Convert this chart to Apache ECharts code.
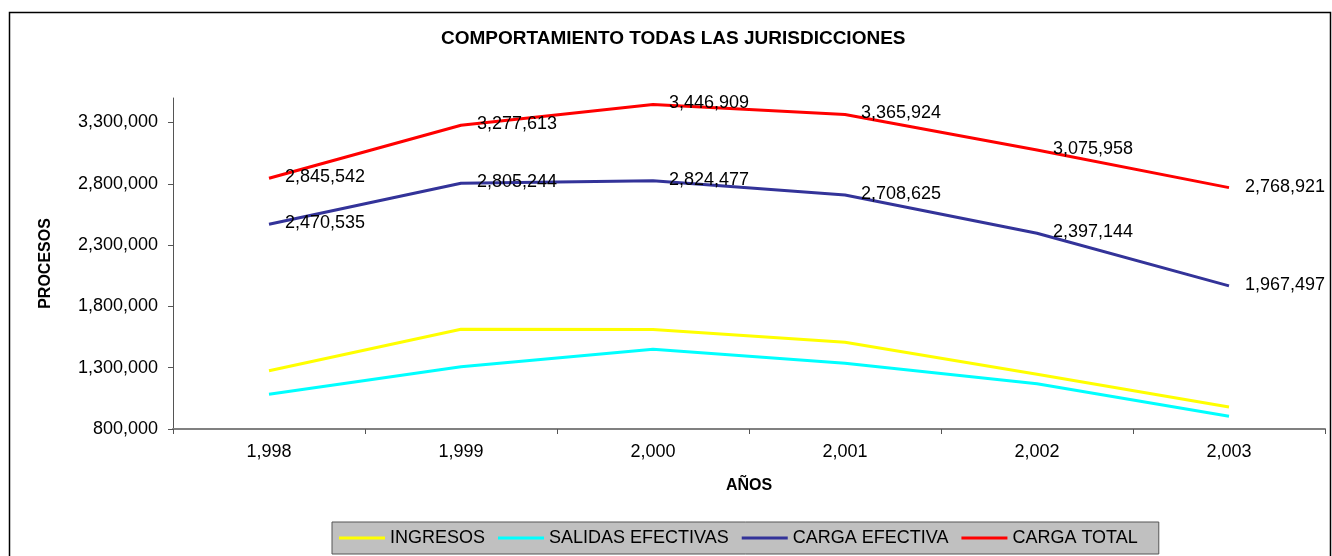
<!DOCTYPE html>
<html>
<head>
<meta charset="utf-8">
<title>COMPORTAMIENTO TODAS LAS JURISDICCIONES</title>
<script src="https://cdn.jsdelivr.net/npm/echarts@6/dist/echarts.min.js"></script>
<style>
  html, body { margin: 0; padding: 0; background: #fff; }
  #chart { width: 1332px; height: 556px; }
</style>
</head>
<body>
<div id="chart"></div>
<script>
// datos
let years = ['1,998', '1,999', '2,000', '2,001', '2,002', '2,003'];
let ingresos = [1275000, 1613000, 1612000, 1507000, 1246000, 979000];
let salidas = [1083000, 1308000, 1450000, 1336000, 1169000, 904000];
let cargaEfectiva = [2470535, 2805244, 2824477, 2708625, 2397144, 1967497];
let cargaTotal = [2845542, 3277613, 3446909, 3365924, 3075958, 2768921];
let yTicks = [800000, 1300000, 1800000, 2300000, 2800000, 3300000];

let font = "'Liberation Sans', Arial, sans-serif";

function fmt(v) {
  return Number(v).toLocaleString('en-US');
}

// etiquetas de valor a la derecha del punto
let valueLabel = {
  show: true,
  position: 'right',
  distance: 16,
  offset: [0, -1],
  color: '#000',
  fontFamily: font,
  fontSize: 18,
  formatter: function (p) { return fmt(p.value); }
};

function lineSerie(name, data, color, label) {
  return {
    name: name,
    type: 'line',
    data: data,
    symbol: 'circle',
    symbolSize: 0.1,
    itemStyle: { color: color },
    lineStyle: { color: color, width: 3 },
    label: label ? valueLabel : { show: false },
    emphasis: { disabled: true },
    silent: true,
    animation: false
  };
}

let option = {
  animation: false,
  backgroundColor: '#fff',
  textStyle: { fontFamily: font },
  title: {
    text: 'COMPORTAMIENTO TODAS LAS JURISDICCIONES',
    left: 436,
    top: 24,
    textStyle: { fontFamily: font, fontSize: 19, fontWeight: 'bold', color: '#000' }
  },
  grid: { left: 173, right: 7, top: 98, bottom: 127 },
  legend: {
    left: 332,
    top: 522,
    data: ['INGRESOS', 'SALIDAS EFECTIVAS', 'CARGA EFECTIVA', 'CARGA TOTAL'],
    icon: 'rect',
    backgroundColor: '#c0c0c0',
    borderColor: '#555',
    borderWidth: 1,
    borderRadius: 0,
    padding: [7, 21, 7, 7],
    itemWidth: 46,
    itemHeight: 3,
    itemGap: 13,
    textStyle: { fontFamily: font, fontSize: 18, color: '#000', lineHeight: 18 }
  },
  xAxis: {
    type: 'category',
    data: years,
    boundaryGap: true,
    name: 'AÑOS',
    nameLocation: 'middle',
    nameGap: 49,
    nameTextStyle: { fontFamily: font, fontSize: 16, fontWeight: 'bold', color: '#000' },
    axisLine: { lineStyle: { color: '#808080', width: 2 } },
    axisTick: { show: true, length: 5, lineStyle: { color: '#555' } },
    axisLabel: { margin: 14, color: '#000', fontFamily: font, fontSize: 18 },
    splitLine: { show: false }
  },
  yAxis: {
    type: 'value',
    min: 800000,
    max: 3500000,
    interval: 500000,
    name: 'PROCESOS',
    nameLocation: 'middle',
    nameGap: 119,
    nameRotate: 90,
    nameTextStyle: { fontFamily: font, fontSize: 16, fontWeight: 'bold', color: '#000' },
    axisLine: { show: true, lineStyle: { color: '#555', width: 1 } },
    axisTick: { show: true, length: 5, customValues: yTicks, lineStyle: { color: '#555' } },
    axisLabel: {
      margin: 15,
      color: '#000',
      fontFamily: font,
      fontSize: 18,
      customValues: yTicks,
      formatter: fmt
    },
    splitLine: { show: false }
  },
  // marco exterior del grafico
  graphic: [{
    type: 'rect',
    silent: true,
    shape: { x: 9.5, y: 12.5, width: 1321, height: 560 },
    style: { fill: 'none', stroke: '#000', lineWidth: 1.5 }
  }],
  series: [
    lineSerie('INGRESOS', ingresos, '#ffff00', false),
    lineSerie('SALIDAS EFECTIVAS', salidas, '#00ffff', false),
    lineSerie('CARGA EFECTIVA', cargaEfectiva, '#333399', true),
    lineSerie('CARGA TOTAL', cargaTotal, '#ff0000', true)
  ]
};

let myChart = echarts.init(document.getElementById('chart'), null, { renderer: 'canvas' });
myChart.setOption(option);
</script>
</body>
</html>
